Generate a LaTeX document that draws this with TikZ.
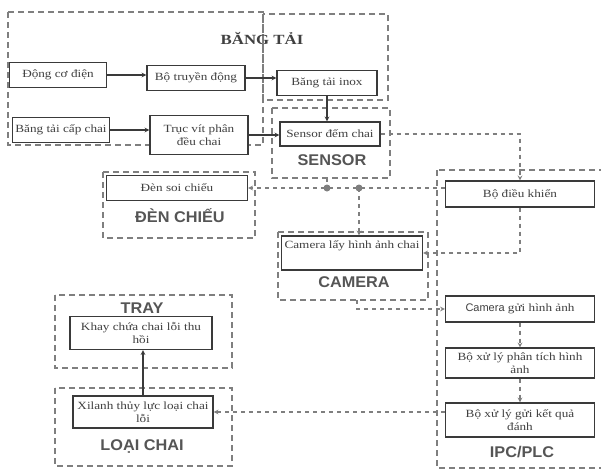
\documentclass[tikz,border=0pt]{standalone}
\usepackage{fontspec}
\setmainfont{Liberation Serif}
\setsansfont{Liberation Sans}
\newfontfamily\boxfont[FakeStretch=1.2]{Liberation Serif}
\newfontfamily\lblfont[FakeStretch=1.05]{Liberation Sans}
\usetikzlibrary{arrows}
\definecolor{boxc}{HTML}{3A3A3A}
\definecolor{grpc}{HTML}{7F7F7F}
\definecolor{txtc}{HTML}{404040}
\definecolor{lblc}{HTML}{555555}

\begin{document}
\begin{tikzpicture}[x=1pt,y=-1pt,
  blk/.style={draw=boxc,line width=1.4pt,fill=white,align=center,inner sep=1pt,
    text=txtc,font=\boxfont\fontsize{11}{13}\selectfont},
  grp/.style={draw=grpc,line width=1.1pt,dash pattern=on 6pt off 4pt},
  grplbl/.style={text=lblc,font=\lblfont\fontsize{15.5}{17}\selectfont\bfseries},
  sol/.style={draw=boxc,line width=1.1pt,-stealth},
  dsh/.style={draw=grpc,line width=1.1pt,dash pattern=on 4pt off 4pt,-stealth},
  jdot/.style={fill=grpc}]
\useasboundingbox (0,0) rectangle (601,474);

% nhom
\draw[grp] (8,12) rectangle (263,145);
\draw[grp] (263,14) rectangle (388,100);
\draw[grp] (272,108) rectangle (390,178);
\draw[grp] (103,172) rectangle (255,238);
\draw[grp] (278,232) rectangle (428,300);
\draw[grp] (437,170) rectangle (603,468);
\draw[grp] (55,295) rectangle (232,368);
\draw[grp] (55,388) rectangle (232,466);

\node[text=txtc,font=\boxfont\fontsize{14}{16}\selectfont\bfseries] (bangtai) at (262,38) {BĂNG TẢI};
\node[grplbl] (lsensor) at (332,160) {SENSOR};
\node[grplbl] (lden) at (180,216) {ĐÈN CHIẾU};
\node[grplbl] (lcam) at (354,282) {CAMERA};
\node[grplbl] (lipc) at (522,452) {IPC/PLC};
\node[grplbl] (ltray) at (142,308) {TRAY};
\node[grplbl] (lloai) at (142,446) {LOẠI CHAI};

% khoi
\node[blk,minimum width=97pt,minimum height=25pt] (dco) at (58,75) {Động cơ điện};
\node[blk,minimum width=98pt,minimum height=25pt] (btd) at (196,78) {Bộ truyền động};
\node[blk,minimum width=100pt,minimum height=25pt] (bti) at (327,83) {Băng tải inox};
\node[blk,minimum width=97pt,minimum height=25pt] (btcc) at (61,130) {Băng tải cấp chai};
\node[blk,minimum width=98pt,minimum height=39pt] (tvp) at (199,135) {Trục vít phân\\đều chai};
\node[blk,minimum width=100pt,minimum height=24pt] (sdc) at (330,134) {Sensor đếm chai};
\node[blk,minimum width=141pt,minimum height=25pt] (dsc) at (177,188) {Đèn soi chiếu};
\node[blk,minimum width=141pt,minimum height=34pt] (cam) at (352,253) {Camera lấy hình ảnh chai\\\strut};
\node[blk,minimum width=149pt,minimum height=26pt] (bdk) at (520,194) {Bộ điều khiển};
\node[blk,minimum width=149pt,minimum height=26pt] (cgh) at (520,309) {{\sffamily Camera} gửi hình ảnh};
\node[blk,minimum width=149pt,minimum height=30pt] (xlp) at (520,363) {Bộ xử lý phân tích hình\\ảnh};
\node[blk,minimum width=149pt,minimum height=34pt] (xlg) at (520,420) {Bộ xử lý gửi kết quả\\đánh};
\node[blk,minimum width=142pt,minimum height=33pt] (khay) at (141,333) {Khay chứa chai lỗi thu\\hồi};
\node[blk,minimum width=140pt,minimum height=32pt] (xil) at (143,412) {Xilanh thủy lực loại chai\\lỗi};

% noi
\draw[sol] (dco) -- (dco -| btd.west);
\draw[sol] (btd) -- (btd -| bti.west);
\draw[sol] (btcc) -- (btcc -| tvp.west);
\draw[sol] (tvp) -- (tvp -| sdc.west);
\draw[sol] (bti.south) -- (bti.south |- sdc.north);
\draw[sol] (xil.north) -- (xil.north |- khay.south);

\coordinate (sgb) at (327,178);
\coordinate (camg) at (357,300);
\coordinate (j1) at (dsc.east -| sgb);
\coordinate (j2) at (dsc.east -| 359,0);

\draw[dsh] (sdc.east) -| (bdk.north);
\draw[dsh] (bdk.south) |- (cam.east);
\draw[dsh] (dsc.east -| bdk.west) -- (dsc.east);
\draw[dsh,-] (sgb) -- (j1);
\draw[dsh] (j2) -- (j2 |- cam.north);
\fill[jdot] (j1) circle (3.5pt);
\fill[jdot] (j2) circle (3.5pt);
\draw[dsh] (camg) |- (cgh.west);
\draw[dsh] (cgh) -- (xlp);
\draw[dsh] (xlp) -- (xlg);
\draw[dsh] (xil.east -| xlg.west) -- (xil.east);
\end{tikzpicture}
\end{document}
